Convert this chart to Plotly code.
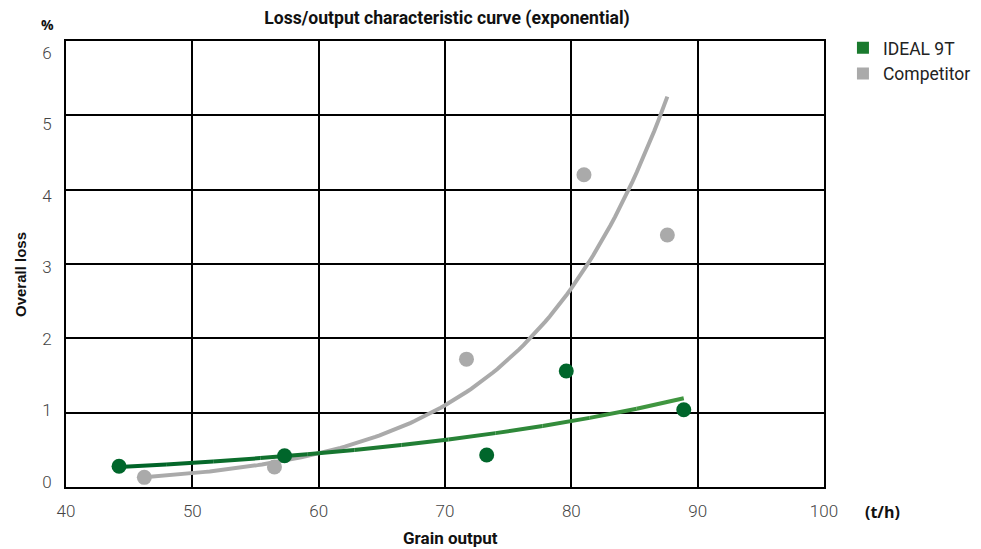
import numpy as np
import plotly.graph_objects as go

ideal_x = [44.2, 57.3, 73.3, 79.6, 88.9]
ideal_y = [0.28, 0.42, 0.43, 1.56, 1.04]
comp_x = [46.2, 56.5, 71.7, 81.0, 87.6]
comp_y = [0.13, 0.27, 1.72, 4.20, 3.39]
x_ticks = [40, 50, 60, 70, 80, 90, 100]
y_ticks = [0, 1, 2, 3, 4, 5, 6]

GREEN_DOT = "#00662b"
GREEN_START = (0, 100, 40)
GREEN_END = (64, 150, 64)
GRAY = "#aaaaaa"


def exp_fit(xs, ys):
    xs = np.array(xs)
    b, a = np.polyfit(xs, np.log(ys), 1)
    xf = np.linspace(xs.min(), xs.max(), 121)
    return xf, np.exp(a + b * xf)


fig = go.Figure()
cx, cy = exp_fit(comp_x, comp_y)
gx, gy = exp_fit(ideal_x, ideal_y)

fig.add_trace(go.Scatter(x=cx, y=cy, mode="lines", line=dict(color=GRAY, width=4),
                         showlegend=False, hoverinfo="skip"))
fig.add_trace(go.Scatter(x=comp_x, y=comp_y, mode="markers",
                         marker=dict(color=GRAY, size=15), showlegend=False))

# green trend line drawn in short pieces to mimic its dark-to-light gradient
n_seg = 12
step = (len(gx) - 1) // n_seg
for i in range(n_seg):
    t = i / (n_seg - 1)
    col = "rgb({},{},{})".format(*[int(s + (e - s) * t) for s, e in zip(GREEN_START, GREEN_END)])
    sl = slice(i * step, (i + 1) * step + 1)
    fig.add_trace(go.Scatter(x=gx[sl], y=gy[sl], mode="lines", line=dict(color=col, width=4),
                             showlegend=False, hoverinfo="skip"))

fig.add_trace(go.Scatter(x=ideal_x, y=ideal_y, mode="markers",
                         marker=dict(color=GREEN_DOT, size=15), showlegend=False))

fig.add_trace(go.Scatter(x=[None], y=[None], mode="markers", name="IDEAL 9T",
                         marker=dict(color="#1a7a2e", symbol="square", size=12)))
fig.add_trace(go.Scatter(x=[None], y=[None], mode="markers", name="Competitor",
                         marker=dict(color=GRAY, symbol="square", size=12)))
# carrier for the tick-label axis (labels are spaced slightly tighter than the grid)
fig.add_trace(go.Scatter(x=[None], y=[None], yaxis="y2", showlegend=False,
                         hoverinfo="skip"))

TICKFONT = dict(family="Roboto", size=17, color="#444444", weight=300)

fig.update_layout(
    width=981, height=549,
    margin=dict(l=58, r=165, t=33, b=70),
    paper_bgcolor="white", plot_bgcolor="white",
    font=dict(family="Roboto", size=16, color="#444444"),
    title=dict(text="<b>Loss/output characteristic curve (exponential)</b>",
               x=439 / 981, xanchor="center", y=1 - 10 / 549, yanchor="middle",
               font=dict(family="Roboto", size=17.6, color="#111111")),
    legend=dict(x=1.025, xanchor="left", y=1.025, yanchor="top",
                bgcolor="rgba(0,0,0,0)",
                font=dict(family="Roboto", size=17.5, color="#222222"),
                itemwidth=30, tracegroupgap=5),
    xaxis=dict(range=[40, 100], tickvals=x_ticks, showgrid=True, gridcolor="black",
               gridwidth=2, zeroline=False, showline=True, linecolor="black", linewidth=2,
               mirror=True, ticks="outside", ticklen=8, tickcolor="rgba(0,0,0,0)",
               tickfont=TICKFONT),
    yaxis=dict(range=[0, 6], tickvals=y_ticks, showgrid=True, gridcolor="black",
               gridwidth=2, zeroline=False, showline=True, linecolor="black", linewidth=2,
               mirror=True, showticklabels=False, ticks=""),
    yaxis2=dict(overlaying="y", side="left", range=[-0.0699, 6.163], tickvals=y_ticks,
                showgrid=False, zeroline=False, showline=False,
                ticks="outside", ticklen=10, tickcolor="rgba(0,0,0,0)",
                tickfont=TICKFONT),
    annotations=[
        dict(text="<b>%</b>", xref="paper", yref="paper", x=-19 / 758, y=1 + 17 / 446,
             xanchor="center", yanchor="middle", showarrow=False,
             font=dict(family="Open Sans", size=14, color="#111111")),
        dict(text="<b>(t/h)</b>", xref="paper", yref="paper", x=1 + 58 / 758, y=-25 / 446,
             xanchor="center", yanchor="middle", showarrow=False,
             font=dict(family="Open Sans", size=16, color="#111111")),
        dict(text="<b>Grain output</b>", xref="paper", yref="paper", x=384 / 758,
             y=-51 / 446, xanchor="center", yanchor="middle", showarrow=False,
             font=dict(family="Roboto", size=17, color="#111111")),
        dict(text="<b>Overall loss</b>", xref="paper", yref="paper", x=-46 / 758,
             y=212 / 446, xanchor="center", yanchor="middle", showarrow=False,
             textangle=-90,
             font=dict(family="Liberation Sans", size=15, color="#111111")),
    ],
)

fig.write_html("out.html")
